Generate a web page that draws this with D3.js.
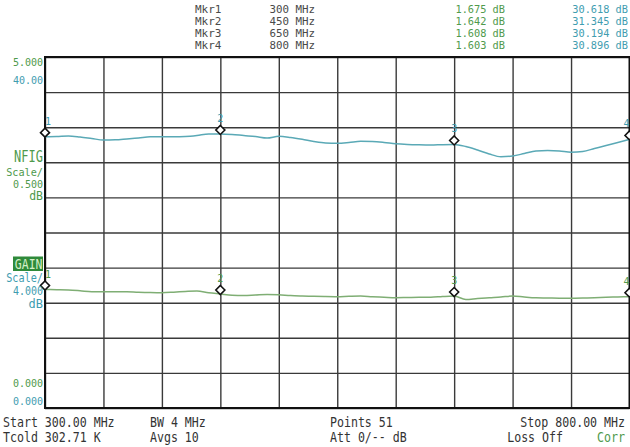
<!DOCTYPE html>
<html><head><meta charset="utf-8">
<script src="https://cdn.jsdelivr.net/npm/d3@7"></script>
<style>
html,body{margin:0;padding:0;background:#fff;}
svg{display:block;}
text{font-family:"DejaVu Sans Mono",monospace;}
</style></head>
<body>
<svg id="c" width="630" height="447"></svg>
<script>
// ---- data ----
const freqs = d3.range(300, 801, 10); // MHz, 51 points
const gainDb = [30.92,30.94,31.00,30.88,30.71,30.54,30.56,30.66,30.77,30.92,
  30.92,30.92,30.94,31.05,31.23,31.23,31.17,31.05,30.94,30.77,
  30.96,30.83,30.62,30.37,30.20,30.17,30.26,30.40,30.37,30.26,
  30.11,30.03,29.99,29.97,30.01,30.03,29.80,29.40,28.95,28.63,
  28.72,29.00,29.29,29.34,29.29,29.15,29.23,29.57,29.91,30.26,30.60];
const nfDb = [1.688,1.685,1.681,1.670,1.657,1.655,1.657,1.655,1.648,1.644,
  1.643,1.650,1.660,1.667,1.641,1.624,1.607,1.603,1.610,1.617,
  1.613,1.601,1.595,1.591,1.587,1.585,1.591,1.595,1.585,1.578,
  1.571,1.574,1.577,1.577,1.588,1.595,1.546,1.560,1.571,1.581,
  1.595,1.581,1.570,1.567,1.563,1.564,1.567,1.571,1.577,1.581,1.585];
const markerNames = ["Mkr1","Mkr2","Mkr3","Mkr4"];
const markerFreqs = [300,450,650,800];
const markerNfText = ["1.675 dB","1.642 dB","1.608 dB","1.603 dB"];
const markerGainText = ["30.618 dB","31.345 dB","30.194 dB","30.896 dB"];
const nfDomain = [0, 5];      // 0.500 dB/div
const gainDomain = [0, 40];   // 4.000 dB/div
const nfTickLabels = ["5.000","0.000"];
const gainTickLabels = ["40.00","0.000"];

// ---- layout ----
const GREEN = "#4f9a4c", TEAL = "#3f9db0";
const TR_GREEN = "#7fae74", TR_TEAL = "#5aa9b6";
const L = 45, R = 629.5, T = 57, B = 408;
const svg = d3.select("#c");
const x = d3.scaleLinear().domain([300, 800]).range([L, R]);
const yNf = d3.scaleLinear().domain(nfDomain).range([B, T]);
const yG = d3.scaleLinear().domain(gainDomain).range([B, T]);

// grid via axes
const gx = svg.append("g").attr("transform", `translate(0,${B})`)
  .call(d3.axisBottom(x).tickValues(d3.range(300, 801, 50)).tickSize(-(B - T)).tickFormat(""));
const gy = svg.append("g").attr("transform", `translate(${L},0)`)
  .call(d3.axisLeft(yNf).tickValues(d3.range(0, 5.01, 0.5)).tickSize(-(R - L)).tickFormat(""));
[gx, gy].forEach(g => {
  g.select(".domain").remove();
  g.selectAll("line").attr("stroke", "#3a3a3a").attr("stroke-width", 1.4);
});
// frame
svg.append("rect").attr("x", L).attr("y", T).attr("width", R - L).attr("height", B - T)
  .attr("fill", "none").attr("stroke", "#111").attr("stroke-width", 2);

// traces
const lineG = d3.line().x((d, i) => x(freqs[i])).y(d => yG(d)).curve(d3.curveMonotoneX);
const lineN = d3.line().x((d, i) => x(freqs[i])).y(d => yNf(d)).curve(d3.curveMonotoneX);
svg.append("path").attr("d", lineG(gainDb)).attr("fill", "none").attr("stroke", TR_TEAL).attr("stroke-width", 1.5);
svg.append("path").attr("d", lineN(nfDb)).attr("fill", "none").attr("stroke", TR_GREEN).attr("stroke-width", 1.5);

// markers
function drawMarkers(series, yScale, col) {
  markerFreqs.forEach((f, i) => {
    const idx = freqs.indexOf(f);
    const cx = x(f), cy = yScale(series[idx]) - 4;
    svg.append("path").attr("d", `M${cx},${cy-4.5}L${cx+4.5},${cy}L${cx},${cy+4.5}L${cx-4.5},${cy}Z`)
      .attr("fill", "#fff").attr("stroke", "#111").attr("stroke-width", 1.6);
    svg.append("text").attr("x", i === 0 ? cx + 3 : (i === 3 ? cx - 3 : cx)).attr("y", cy - 8)
      .attr("text-anchor", "middle").attr("font-size", 10).attr("fill", col).text(i + 1);
  });
}
drawMarkers(gainDb, yG, TEAL);
drawMarkers(nfDb, yNf, GREEN);

// generic text with vertical stretch (tall narrow instrument font)
function tx(t, xx, y, fs, sy, col, anchor) {
  return svg.append("text").attr("transform", `translate(${xx},${y}) scale(1,${sy})`)
    .attr("font-size", fs).attr("fill", col).attr("text-anchor", anchor || "start").text(t);
}

// marker table
markerNames.forEach((m, i) => {
  const yy = 13 + i * 12;
  tx(m, 195, yy, 11, 1, "#4a4a4a");
  tx(markerFreqs[i] + " MHz", 315, yy, 10.8, 1, "#4a4a4a", "end");
  tx(markerNfText[i], 505, yy, 10.3, 1.05, GREEN, "end");
  tx(markerGainText[i], 628, yy, 10.3, 1.05, TEAL, "end");
});

// left labels
tx(nfTickLabels[0], 43, 65.5, 10, 1.1, GREEN, "end");
tx(gainTickLabels[0], 43, 84, 10, 1.1, TEAL, "end");
tx("NFIG", 43, 162, 12, 1.3, GREEN, "end");
tx("Scale/", 43, 175.5, 10.2, 1, GREEN, "end");
tx("0.500", 43, 187.5, 10, 1, GREEN, "end");
tx("dB", 43, 199.5, 11.5, 1, GREEN, "end");
svg.append("rect").attr("x", 13).attr("y", 256.5).attr("width", 30).attr("height", 14.5).attr("fill", "#2f8a3a");
tx("GAIN", 42.5, 269, 11.5, 1.25, "#d4efc8", "end");
tx("Scale/", 43, 282, 10.2, 1.15, TEAL, "end");
tx("4.000", 43, 295, 10, 1.15, TEAL, "end");
tx("dB", 43, 308, 12, 1.05, TEAL, "end");
tx(nfTickLabels[1], 43, 387, 10, 1.1, GREEN, "end");
tx(gainTickLabels[1], 43, 405, 10, 1.1, TEAL, "end");

// bottom status
const STC = "#333";
tx("Start 300.00 MHz", 3, 427, 11.6, 1.22, STC);
tx("Tcold 302.71 K", 3, 442, 11.6, 1.22, STC);
tx("BW 4 MHz", 150, 427, 11.6, 1.22, STC);
tx("Avgs 10", 150, 442, 11.6, 1.22, STC);
tx("Points 51", 330, 427, 11.6, 1.22, STC);
tx("Att 0/-- dB", 330, 442, 11.6, 1.22, STC);
tx("Stop 800.00 MHz", 625, 427, 11.6, 1.22, STC, "end");
tx("Loss Off", 563, 442, 11.6, 1.22, STC, "end");
tx("Corr", 625, 442, 11.6, 1.22, GREEN, "end");
</script>
</body></html>
